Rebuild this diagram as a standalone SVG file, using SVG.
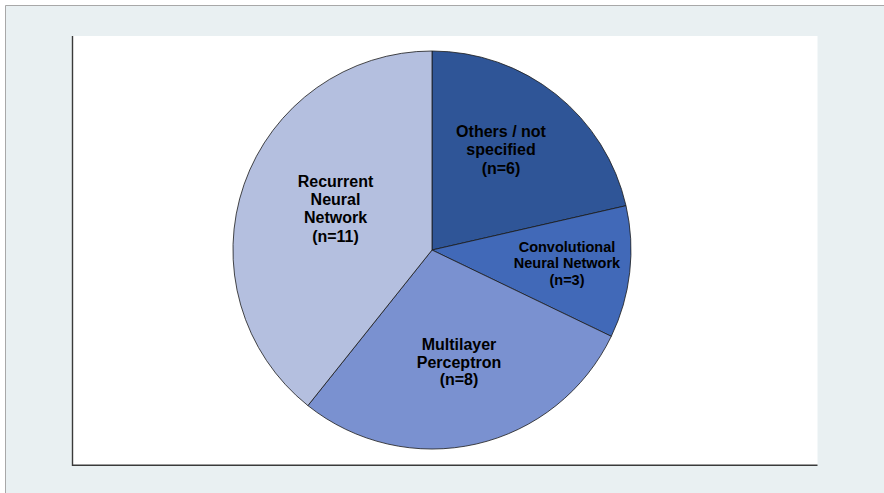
<svg xmlns="http://www.w3.org/2000/svg" width="884" height="493" viewBox="0 0 884 493">
<style>
.lbl{font-family:"Liberation Sans",Arial,sans-serif;font-weight:bold;font-size:16px;fill:#000;text-anchor:middle}
.sm{font-size:14.5px}
.sl{stroke:#1a1a1a;stroke-width:0.8;stroke-linejoin:round}
</style>
<rect x="0" y="0" width="884" height="493" fill="#ffffff"/>
<rect x="5" y="5" width="879" height="488" fill="#e9f0f2"/>
<path d="M5.5 493V5.5H884" fill="none" stroke="#a8a8a8" stroke-width="1"/>
<rect x="72" y="36" width="745.5" height="429" fill="#ffffff"/>
<path d="M72.5 36V465.3H817.5" fill="none" stroke="#3a3a3a" stroke-width="1.4"/>
<g id="others">
<path class="sl" d="M432 250L432 51A199 199 0 0 1 626.0 205.7Z" fill="#2f5597"/>
<text class="lbl" x="501" y="136.5">Others / not</text>
<text class="lbl" x="501" y="155">specified</text>
<text class="lbl" x="501" y="173.5">(n=6)</text>
</g>
<g id="cnn">
<path class="sl" d="M432 250L626.0 205.7A199 199 0 0 1 611.3 336.3Z" fill="#4169b8"/>
<text class="lbl sm" x="567" y="251.5">Convolutional</text>
<text class="lbl sm" x="567" y="268.3">Neural Network</text>
<text class="lbl sm" x="567" y="285">(n=3)</text>
</g>
<g id="mlp">
<path class="sl" d="M432 250L611.3 336.3A199 199 0 0 1 307.9 405.6Z" fill="#7a91d0"/>
<text class="lbl" x="459" y="350">Multilayer</text>
<text class="lbl" x="459" y="368.3">Perceptron</text>
<text class="lbl" x="459" y="385">(n=8)</text>
</g>
<g id="rnn">
<path class="sl" d="M432 250L307.9 405.6A199 199 0 0 1 432 51Z" fill="#b4bfdf"/>
<text class="lbl" x="335.5" y="186.7">Recurrent</text>
<text class="lbl" x="335.5" y="205">Neural</text>
<text class="lbl" x="335.5" y="223.3">Network</text>
<text class="lbl" x="335.5" y="241.7">(n=11)</text>
</g>
<g id="connectors"></g>
</svg>
